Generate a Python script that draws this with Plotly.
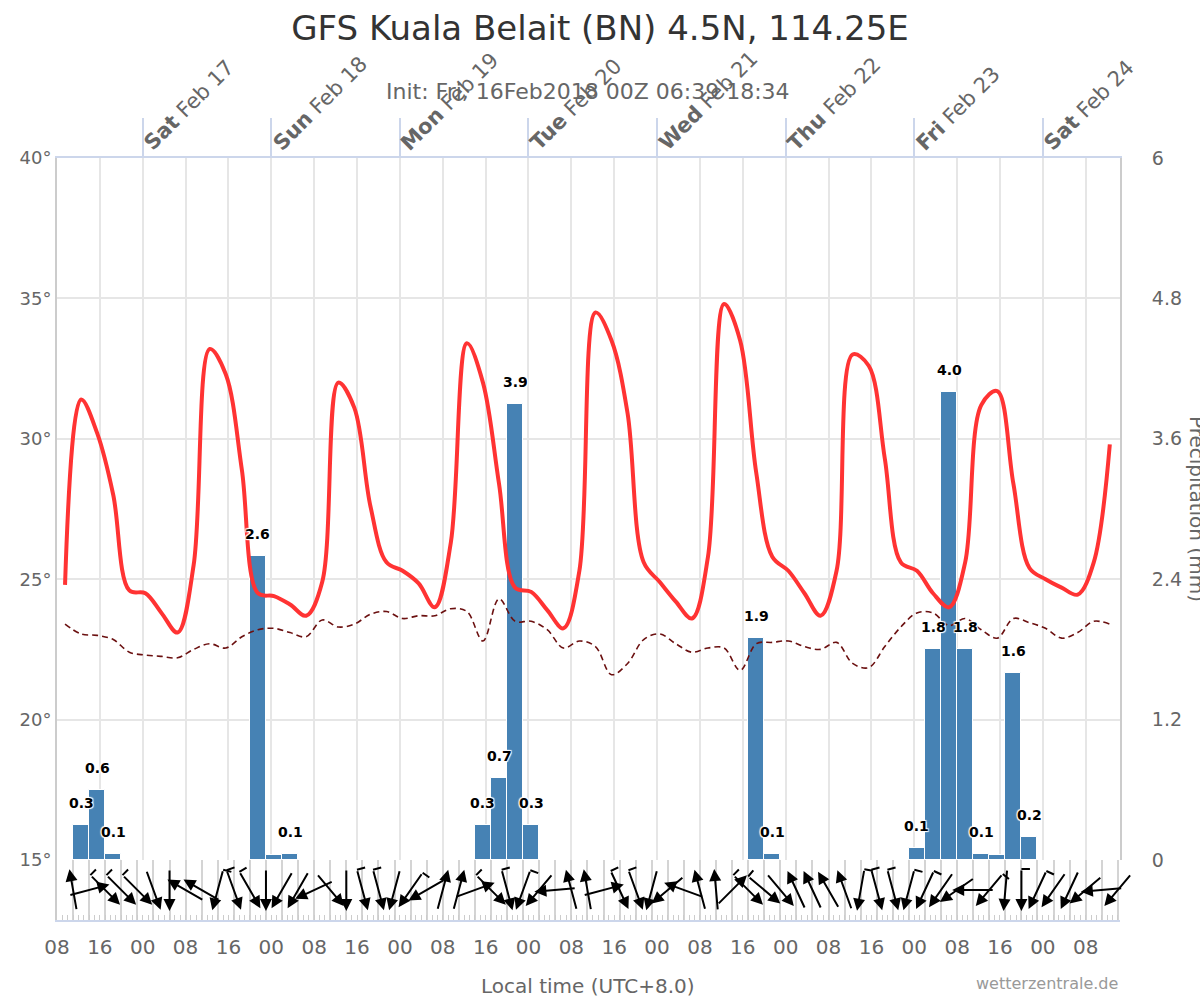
import math
import plotly.graph_objects as go

# --- palette / fonts ------------------------------------------------------------
FONT = "DejaVu Sans"
INK = "#333333"; MUTE = "#666666"; FAINT = "#999999"
GRID = "#e6e6e6"; FRAME = "#cccccc"; AXBLUE = "#ccd6eb"
RED = "#ff3333"; DEW = "#6b1010"; BAR = "#4682b4"

# --- data: hours since Fri 16 Feb 2018 08:00 local (00Z) -----------------------
hours = [1.5 + 3 * k for k in range(66)]          # 3-hourly steps, plotted mid-step
wind_hours = [3 * (k + 1) for k in range(66)]     # wind drawn on the 3 h grid

temp_c = [24.8, 31.4, 30.2, 28.0, 24.6, 24.5, 23.8, 23.1, 25.5, 33.2,
          32.3, 28.9, 24.5, 24.4, 24.1, 23.7, 24.9, 32.0, 31.1, 27.6,
          25.6, 25.3, 24.85, 24.0, 26.3, 33.4, 32.0, 28.4, 24.7, 24.55,
          23.9, 23.25, 25.3, 34.5, 33.5, 30.9, 25.6, 24.9, 24.2, 23.6,
          25.8, 34.8, 33.5, 28.8, 25.8, 25.3, 24.5, 23.7, 25.3, 33.0,
          32.6, 29.3, 25.6, 25.3, 24.5, 24.0, 25.6, 31.2, 31.7, 28.4,
          25.4, 25.0, 24.7, 24.45, 25.6, 29.8]

dewpoint_c = [23.4, 23.05, 23.0, 22.85, 22.4, 22.3, 22.25, 22.2, 22.5, 22.7,
              22.55, 22.95, 23.2, 23.25, 23.1, 22.95, 23.55, 23.3, 23.4, 23.75,
              23.85, 23.6, 23.7, 23.7, 23.95, 23.85, 22.8, 24.3, 23.5, 23.5,
              23.2, 22.55, 22.8, 22.6, 21.6, 22.0, 22.85, 23.05, 22.7, 22.4,
              22.55, 22.55, 21.75, 22.7, 22.75, 22.8, 22.6, 22.5, 22.75, 22.0,
              21.85, 22.6, 23.3, 23.8, 23.8, 23.35, 23.6, 23.2, 22.9, 23.6,
              23.45, 23.25, 22.9, 23.1, 23.5, 23.4]

precip_mm = [0, 0.3, 0.6, 0.05, 0, 0, 0, 0, 0, 0,
             0, 0, 2.6, 0.04, 0.05, 0, 0, 0, 0, 0,
             0, 0, 0, 0, 0, 0, 0.3, 0.7, 3.9, 0.3,
             0, 0, 0, 0, 0, 0, 0, 0, 0, 0,
             0, 0, 0, 1.9, 0.05, 0, 0, 0, 0, 0,
             0, 0, 0, 0.1, 1.8, 4.0, 1.8, 0.05, 0.04, 1.6,
             0.2, 0, 0, 0, 0, 0]

precip_text = ["", "0.3", "0.6", "0.1", "", "", "", "", "", "",
               "", "", "2.6", "", "0.1", "", "", "", "", "",
               "", "", "", "", "", "", "0.3", "0.7", "3.9", "0.3",
               "", "", "", "", "", "", "", "", "", "",
               "", "", "", "1.9", "0.1", "", "", "", "", "",
               "", "", "", "0.1", "1.8", "4.0", "1.8", "0.1", "", "1.6",
               "0.2", "", "", "", "", ""]

# direction the arrow points to, degrees clockwise from north
wind_dir = [350, 75, 135, 135, 135, 160, 180, 300, 300, 195,
            160, 150, 180, 210, 210, 245, 140, 180, 165, 165,
            195, 215, 240, 15, 15, 70, 135, 165, 200, 220,
            265, 345, 350, 75, 155, 160, 195, 230, 290, 345,
            355, 45, 135, 130, 140, 335, 335, 330, 340, 190,
            165, 165, 195, 205, 215, 235, 270, 220, 185, 180,
            205, 215, 205, 230, 265, 220]

# 1 where the arrow carries a short speed barb at its tail
wind_barb = [0, 0, 1, 1, 1, 0, 0, 0, 0, 1,
             1, 1, 0, 0, 0, 0, 0, 0, 1, 1,
             0, 1, 0, 0, 0, 0, 1, 1, 1, 0,
             0, 0, 0, 0, 1, 1, 0, 0, 0, 0,
             0, 0, 1, 1, 0, 0, 0, 0, 0, 1,
             1, 1, 1, 1, 0, 0, 0, 1, 0, 1,
             1, 0, 0, 0, 0, 1]

day_hours = [16, 40, 64, 88, 112, 136, 160, 184]
day_names = ["Sat", "Sun", "Mon", "Tue", "Wed", "Thu", "Fri", "Sat"]
day_dates = ["Feb 17", "Feb 18", "Feb 19", "Feb 20", "Feb 21", "Feb 22", "Feb 23", "Feb 24"]

hour_ticks = list(range(0, 199))
hour_names = ["08", "16", "00"]
temp_ticks = [15, 20, 25, 30, 35, 40]
precip_ticks = [0, 1.2, 2.4, 3.6, 4.8, 6]
precip_tick_text = ["0", "1.2", "2.4", "3.6", "4.8", "6"]

# --- layout geometry (pixels) ----------------------------------------------------
W, H = 1200, 1000
L, R, T, B = 57, 80, 158, 80
WIND_PX = 60
X_MAX = 198.4
plot_w = W - L - R
plot_h = H - T - B
SPLIT = WIND_PX / plot_h
PX_PER_H = plot_w / X_MAX
PX_PER_WY = WIND_PX / 2.0
ARROW_HALF = 21
BARB_PX = 10


def paper_y(py):
    return (H - B - py) / plot_h


def paper_x(px):
    return (px - L) / plot_w


fig = go.Figure()

bx = [h for h, p in zip(hours, precip_mm) if p > 0]
by = [p for p in precip_mm if p > 0]
fig.add_trace(go.Bar(x=bx, y=by, width=3, marker=dict(color=BAR, line=dict(color="white", width=1)),
                     xaxis="x", yaxis="y", hoverinfo="skip"))
fig.add_trace(go.Scatter(x=hours, y=dewpoint_c, mode="lines", xaxis="x", yaxis="y2",
                         line=dict(color=DEW, width=1.6, dash="6px,4px", shape="spline"),
                         hoverinfo="skip"))
fig.add_trace(go.Scatter(x=hours, y=temp_c, mode="lines", xaxis="x", yaxis="y2",
                         line=dict(color=RED, width=4, shape="spline"), hoverinfo="skip"))
fig.add_trace(go.Scatter(x=wind_hours, y=[0] * len(wind_hours), mode="markers",
                         marker=dict(opacity=0), xaxis="x2", yaxis="y3", hoverinfo="skip"))

# bar value labels
halo = "1px 1px 1px white, -1px -1px 1px white, 1px -1px 1px white, -1px 1px 1px white"
for h, p, t in zip(hours, precip_mm, precip_text):
    if t:
        fig.add_annotation(x=h, y=p, xref="x", yref="y", text=t, showarrow=False, yshift=22,
                           font=dict(family=FONT, size=14, color="black", weight="bold", shadow=halo))

# wind arrows (centred on their time step) with an optional barb at the tail
for h, d, b in zip(wind_hours, wind_dir, wind_barb):
    r = math.radians(d)
    dx = ARROW_HALF * math.sin(r) / PX_PER_H
    dy = ARROW_HALF * math.cos(r) / PX_PER_WY
    fig.add_annotation(x=h + dx, y=dy, ax=h - dx, ay=-dy, xref="x2", yref="y3",
                       axref="x2", ayref="y3", text="", showarrow=True, arrowhead=2,
                       arrowsize=1.2, arrowwidth=2, arrowcolor="black", standoff=0)
    if b:
        # drawn towards the tail so the barb meets the shaft exactly
        rb = math.radians(d - 90)
        fig.add_annotation(x=h - dx, y=-dy,
                           ax=h - dx + BARB_PX * math.sin(rb) / PX_PER_H,
                           ay=-dy + BARB_PX * math.cos(rb) / PX_PER_WY,
                           xref="x2", yref="y3", axref="x2", ayref="y3",
                           text="", showarrow=True, arrowhead=0, arrowwidth=2,
                           arrowcolor="black", standoff=0)

# day labels on top axis
for h, n, dte in zip(day_hours, day_names, day_dates):
    fig.add_annotation(x=h, y=1, xref="x", yref="paper", text=f"<b>{n}</b> {dte}",
                       showarrow=False, textangle=-45, xanchor="left", yanchor="bottom",
                       xshift=-6, yshift=0, font=dict(family=FONT, size=21, color=MUTE))

fig.add_annotation(x=paper_x(588), y=paper_y(92), xref="paper", yref="paper", showarrow=False,
                   xanchor="center", yanchor="middle",
                   text="Init: Fri, 16Feb2018 00Z 06:39 18:34",
                   font=dict(family=FONT, size=22, color=MUTE))
fig.add_annotation(x=paper_x(588), y=paper_y(986), xref="paper", yref="paper", showarrow=False,
                   xanchor="center", yanchor="middle", text="Local time (UTC+8.0)",
                   font=dict(family=FONT, size=20, color=MUTE))
fig.add_annotation(x=1, y=paper_y(983), xref="paper", yref="paper", showarrow=False,
                   xanchor="right", yanchor="middle", text="wetterzentrale.de",
                   font=dict(family=FONT, size=16, color=FAINT))
fig.add_annotation(x=paper_x(1197), y=paper_y(509), xref="paper", yref="paper",
                   showarrow=False, textangle=90, xanchor="center", yanchor="middle",
                   text="Precipitation (mm)", font=dict(family=FONT, size=20, color=MUTE))

fig.update_layout(
    width=W, height=H, margin=dict(l=L, r=R, t=T, b=B, autoexpand=False),
    paper_bgcolor="white", plot_bgcolor="white", showlegend=False,
    font=dict(family=FONT, color=MUTE), bargap=0,
    title=dict(text="GFS Kuala Belait (BN) 4.5N, 114.25E", x=0.5, xref="container",
               y=1 - 28 / H, yref="container", yanchor="middle", xanchor="center",
               font=dict(family=FONT, size=34, color=INK)),
    xaxis=dict(range=[0, X_MAX], side="top", anchor="y", tickmode="array", tickvals=day_hours,
               showticklabels=False, ticks="outside", ticklen=38, tickwidth=2, tickcolor=AXBLUE,
               showline=True, linecolor=AXBLUE, linewidth=2, showgrid=True, gridcolor=GRID,
               gridwidth=2, zeroline=False,
               minor=dict(tickmode="linear", tick0=0, dtick=8, showgrid=True, gridcolor=GRID,
                          gridwidth=2, ticks="")),
    xaxis2=dict(matches="x", anchor="y3", side="bottom", tickmode="array", tickvals=hour_ticks,
                ticktext=[hour_names[(h // 8) % 3] if h % 8 == 0 else "" for h in hour_ticks],
                ticks="inside", ticklen=5, tickwidth=1, tickcolor=FRAME, showgrid=False,
                showline=True, linecolor=AXBLUE, linewidth=2, zeroline=False,
                ticklabelstandoff=8, tickfont=dict(family=FONT, size=20, color=MUTE),
                minor=dict(tickmode="linear", tick0=0, dtick=3, showgrid=True, gridcolor="#d4d4d4",
                           gridwidth=2, ticks="")),
    yaxis=dict(domain=[SPLIT, 1], anchor="x", side="right", range=[0, 6], tickmode="array",
               tickvals=precip_ticks, ticktext=precip_tick_text, showgrid=False, zeroline=False,
               showline=True, linecolor=FRAME, linewidth=2, ticks="outside", ticklen=26,
               tickcolor="rgba(0,0,0,0)", tickfont=dict(family=FONT, size=19, color=MUTE)),
    yaxis2=dict(overlaying="y", anchor="x", side="left", range=[15, 40], tickmode="array",
                tickvals=temp_ticks, ticktext=[f"{v}°" for v in temp_ticks], showgrid=True,
                gridcolor=GRID, gridwidth=2, zeroline=False, showline=True, linecolor=FRAME,
                linewidth=2, ticks="", tickfont=dict(family=FONT, size=18, color=MUTE)),
    yaxis3=dict(domain=[0, SPLIT], anchor="x2", range=[-1, 1], showticklabels=False,
                showgrid=False, zeroline=False, showline=True, linecolor=FRAME, linewidth=2,
                ticks=""),
)

# the page is photographed from its top-left corner, so drop the default body margin
fig.write_html("out.html", config={"displayModeBar": False},
               post_script="document.body.style.margin='0';")
